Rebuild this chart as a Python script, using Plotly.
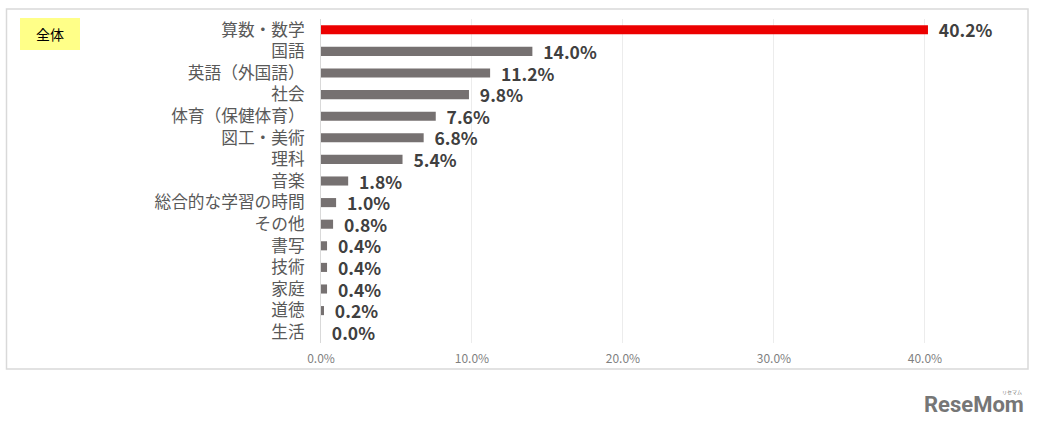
import plotly.graph_objects as go

# 全体 - values (%)
subjects = ["算数・数学", "国語", "英語（外国語）", "社会", "体育（保健体育）", "図工・美術", "理科", "音楽",
            "総合的な学習の時間", "その他", "書写", "技術", "家庭", "道徳", "生活"]
values = [40.2, 14.0, 11.2, 9.8, 7.6, 6.8, 5.4, 1.8, 1.0, 0.8, 0.4, 0.4, 0.4, 0.2, 0.0]
x_ticks = [0, 10, 20, 30, 40]
x_tick_labels = ["0.0%", "10.0%", "20.0%", "30.0%", "40.0%"]

JP = "Noto Sans CJK JP"
W, H = 1037, 426
L, R, T, B = 321, 1024, 19, 343
x_max = 46.56

def px(x):
    return (x - L) / (R - L)

def py(y):
    return (B - y) / (B - T)

colors = ["#ec0000"] + ["#767171"] * (len(values) - 1)

fig = go.Figure(go.Bar(x=values,
                       y=subjects,
                       orientation="h",
                       marker=dict(color=colors, line_width=0),
                       width=0.42,
                       text=values,
                       # nbsp keeps the gap between bar end and label
                       texttemplate="\u00a0\u00a0<b>%{x:.1f}%</b>",
                       textposition="outside",
                       constraintext="none",
                       cliponaxis=False,
                       textfont=dict(family=JP, size=17.5, color="#404040")))

fig.update_layout(width=W, height=H,
                  margin=dict(l=L, r=W - R, t=T, b=H - B),
                  paper_bgcolor="white", plot_bgcolor="white",
                  showlegend=False)
fig.update_xaxes(range=[0, x_max], tickvals=x_ticks, ticktext=x_tick_labels,
                 tickfont=dict(family=JP, size=12, color="#7f7f7f"),
                 showgrid=True, gridcolor="#ececec", gridwidth=1,
                 zeroline=False, showline=False,
                 ticks="outside", ticklen=5, tickcolor="rgba(0,0,0,0)")
fig.update_yaxes(autorange="reversed", tickfont=dict(family=JP, size=16.7, color="#595959"),
                 showgrid=False, zeroline=False,
                 showline=True, linecolor="#d9d9d9", linewidth=1,
                 ticks="outside", ticklen=12, tickcolor="rgba(0,0,0,0)")

# outer frame and the yellow tag
fig.add_shape(type="rect", xref="paper", yref="paper", layer="below",
              x0=px(6.5), x1=px(1028), y0=py(369), y1=py(9),
              line=dict(color="#d9d9d9", width=1.5), fillcolor="rgba(0,0,0,0)")
fig.add_shape(type="rect", xref="paper", yref="paper", layer="below",
              x0=px(20), x1=px(80), y0=py(50), y1=py(18),
              line_width=0, fillcolor="#ffff88")
fig.add_annotation(text="全体", xref="paper", yref="paper", x=px(50), y=py(34),
                   xanchor="center", yanchor="middle", showarrow=False,
                   font=dict(family=JP, size=14, color="black"))
# logo, as text
fig.add_annotation(text="<b>ReseMom</b>", xref="paper", yref="paper", x=px(1026), y=py(404),
                   xanchor="right", yanchor="middle", showarrow=False,
                   font=dict(family="Roboto", size=22, color="#767676"))
fig.add_annotation(text="リセマム", xref="paper", yref="paper", x=px(1024), y=py(392),
                   xanchor="right", yanchor="middle", showarrow=False,
                   font=dict(family=JP, size=5, color="#767676"))

fig.write_html("out.html", config=dict(displayModeBar=False),
               post_script="document.body.style.margin='0';")
